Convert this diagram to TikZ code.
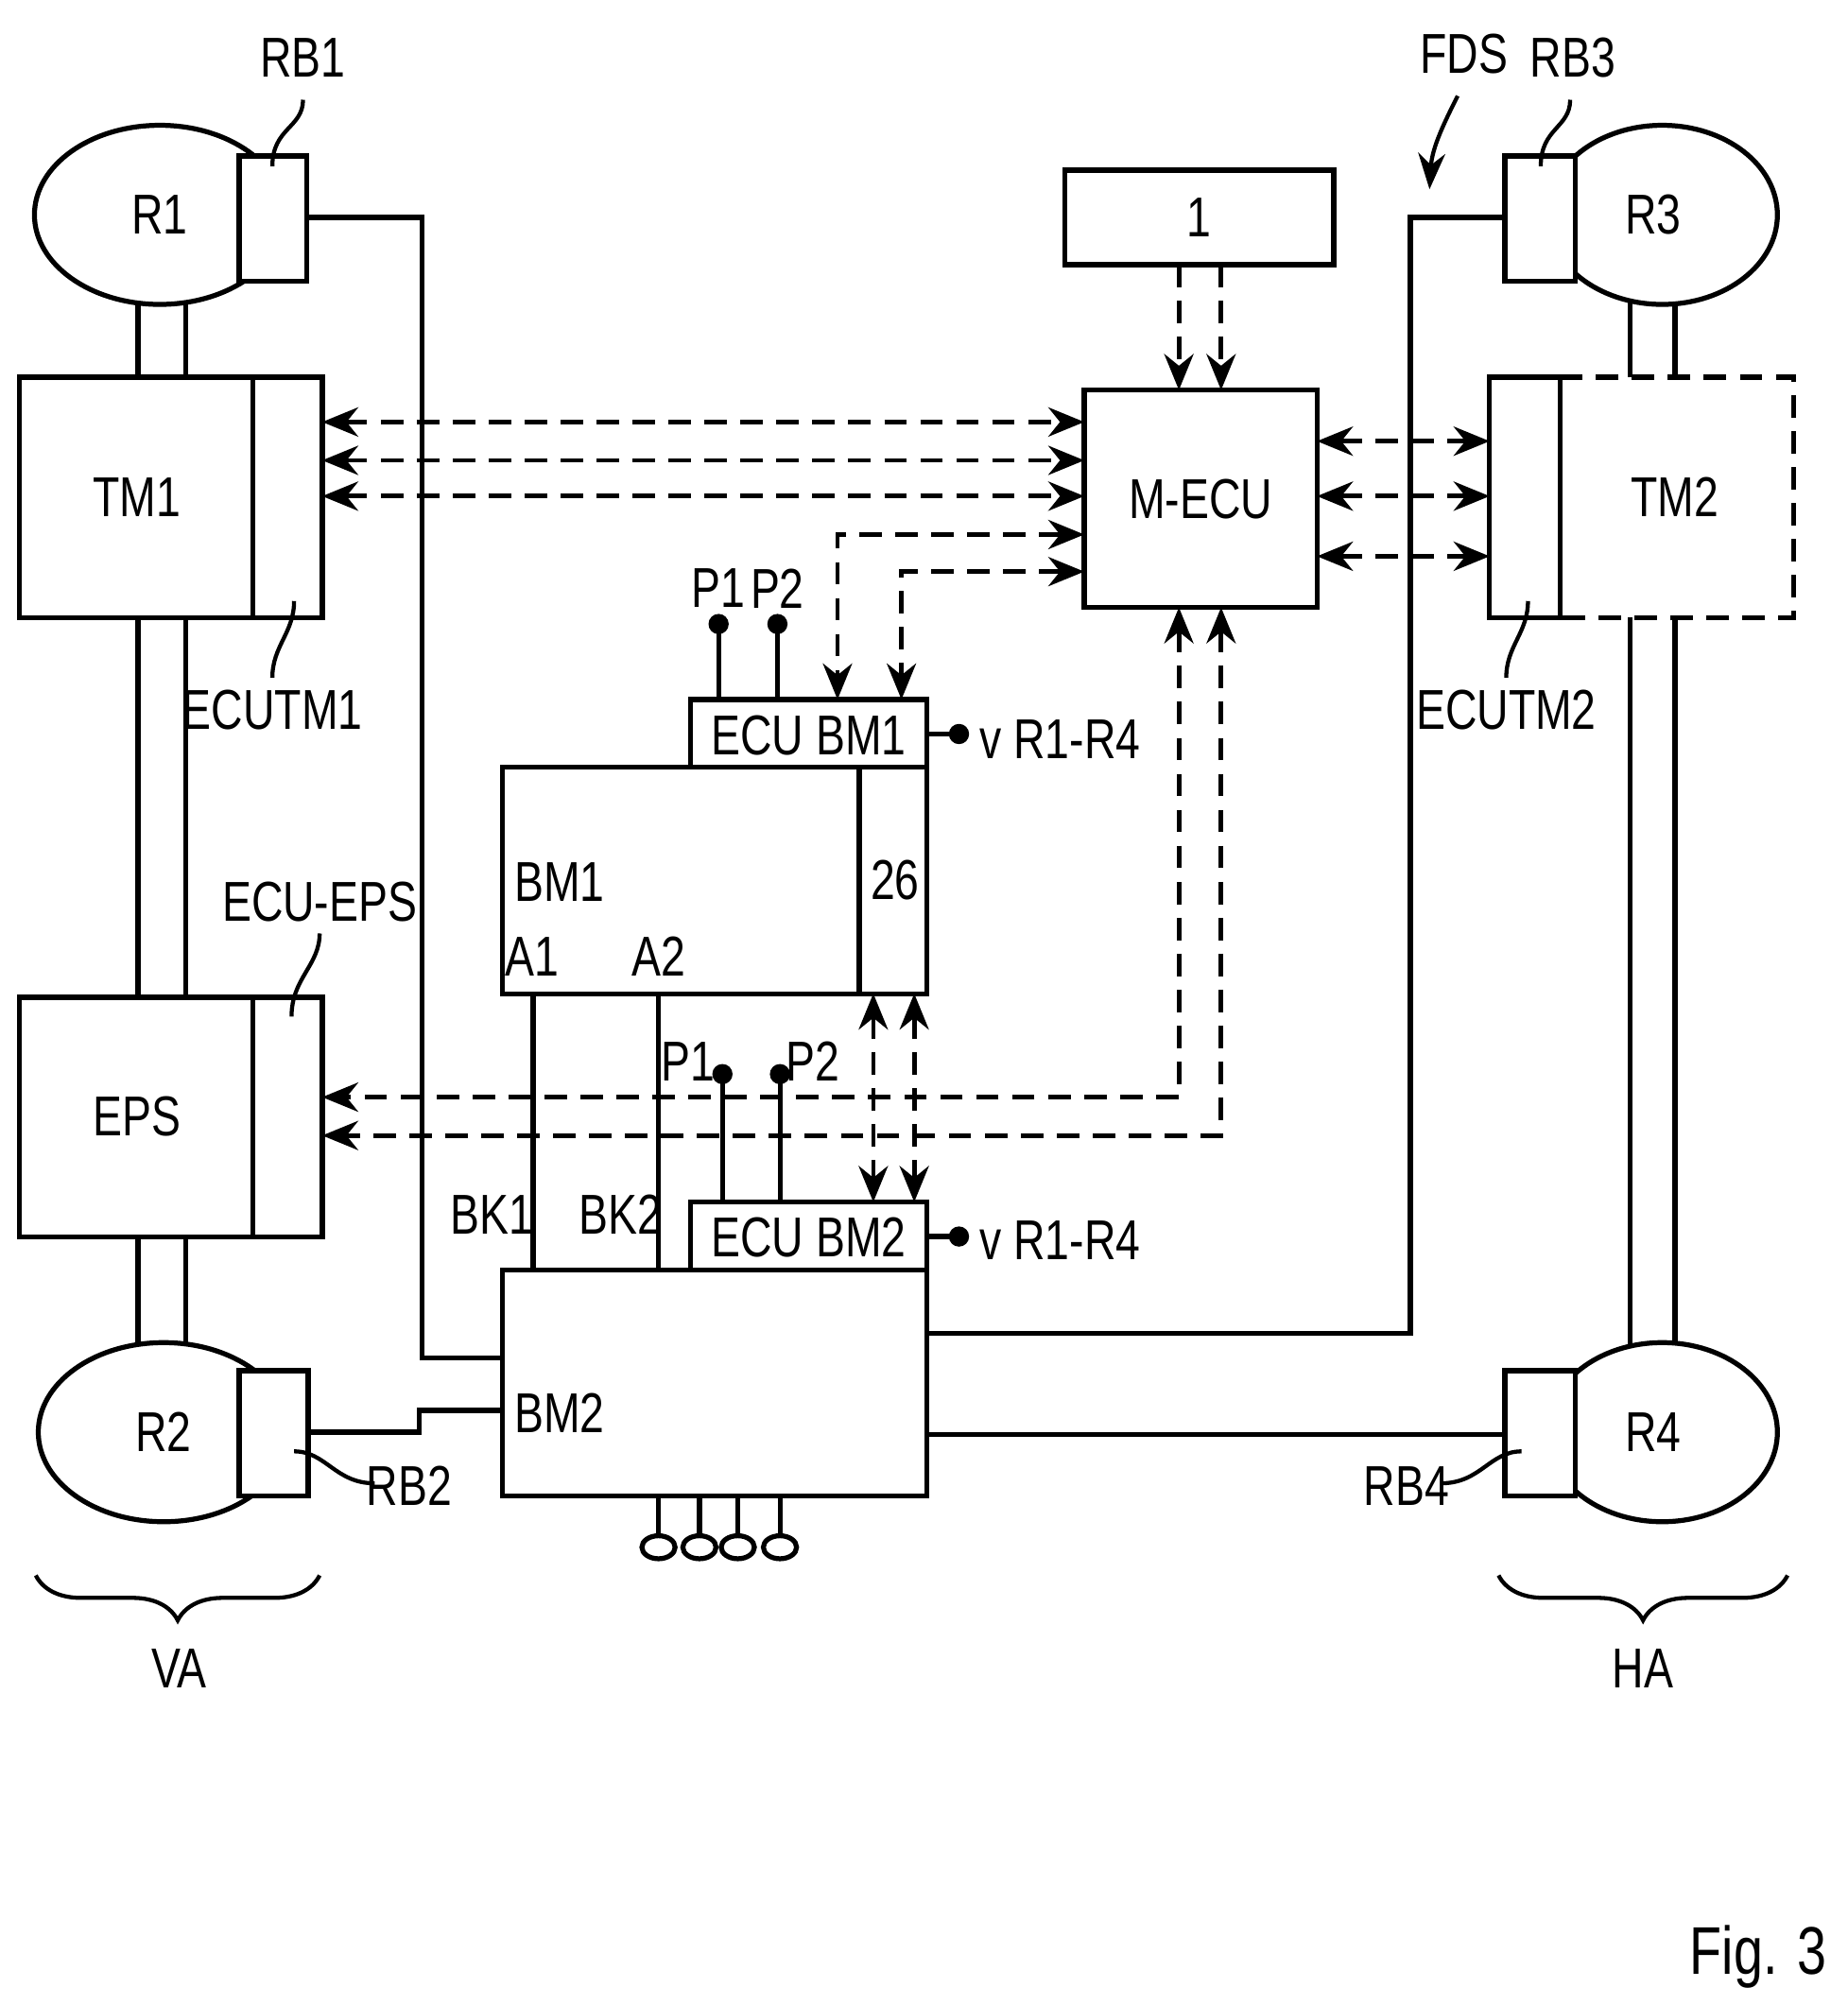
\documentclass[tikz,border=0pt]{standalone}
\usepackage{fontspec}
\setmainfont{Liberation Sans}[FakeStretch=0.78]
\usetikzlibrary{arrows.meta,decorations.pathreplacing,shapes.geometric}
\tikzset{
  box/.style={draw, line width=1.1pt, inner sep=0pt},
  wheel/.style={draw, line width=1.1pt, ellipse, inner sep=0pt},
  sig/.style={dashed, line width=1pt, dash pattern=on 5pt off 3pt},
  dsig/.style={sig, {Stealth[length=8pt,width=6.5pt]}-{Stealth[length=8pt,width=6.5pt]}},
  wire/.style={line width=1.1pt},
  lbl/.style={font=\fontsize{12.5}{14}\selectfont, inner sep=1pt},
  lead/.style={line width=0.9pt},
  pin/.style={circle, fill, inner sep=0pt, minimum size=4.5pt},
}
\begin{document}
\begin{tikzpicture}[x=0.01cm, y=-0.01cm]
\useasboundingbox (0,0) rectangle (1445,1568);
% wheels
\node[wheel, minimum width=1.96cm, minimum height=1.4cm] (r1) at (125,168) {};
\node[wheel, minimum width=1.8cm, minimum height=1.4cm] (r3) at (1300,168) {};
\node[wheel, minimum width=1.96cm, minimum height=1.4cm] (r2) at (128,1120) {};
\node[wheel, minimum width=1.8cm, minimum height=1.4cm] (r4) at (1300,1120) {};
\node[box, fill=white, minimum width=0.53cm, minimum height=0.98cm] (rb1) at (213.5,171) {};
\node[box, fill=white, minimum width=0.55cm, minimum height=0.98cm] (rb3) at (1204.5,171) {};
\node[box, fill=white, minimum width=0.54cm, minimum height=0.98cm] (rb2) at (214,1121) {};
\node[box, fill=white, minimum width=0.55cm, minimum height=0.98cm] (rb4) at (1204.5,1121) {};
\node[lbl] at (125,168) {R1};
\node[lbl] at (1293,168) {R3};
\node[lbl] at (128,1120) {R2};
\node[lbl] at (1293,1120) {R4};
% axles
\foreach \x in {108,145} {
  \draw[wire] (\x,236) -- (\x,295);
  \draw[wire] (\x,483) -- (\x,780);
  \draw[wire] (\x,967) -- (\x,1052);
}
\foreach \x in {1275,1310} {
  \draw[wire] (\x,236) -- (\x,295);
  \draw[wire] (\x,483) -- (\x,1052);
}
% drive units
\node[box, minimum width=2.37cm, minimum height=1.88cm] (tm1) at (133.5,389) {};
\draw[wire] (198,295) -- (198,483);
\node[lbl] at (107,389) {TM1};
\node[box, minimum width=2.37cm, minimum height=1.87cm] (eps) at (133.5,873.5) {};
\draw[wire] (198,780) -- (198,967);
\node[lbl] at (107,873) {EPS};
\node[box, minimum width=0.55cm, minimum height=1.88cm] (ecutm2) at (1192.5,389) {};
\draw[sig, line width=1.1pt] (1220,295) -- (1403,295) -- (1403,483) -- (1220,483);
\node[lbl] at (1310,389) {TM2};
% control units
\node[box, minimum width=2.1cm, minimum height=0.74cm] (one) at (938,170) {};
\node[lbl] at (938,170) {1};
\node[box, minimum width=1.82cm, minimum height=1.7cm] (mecu) at (939,390) {};
\node[lbl] at (939,390) {M-ECU};
\node[box, minimum width=1.85cm, minimum height=0.53cm] (ecubm1) at (632.5,573.5) {};
\node[lbl] at (632.5,575) {ECU BM1};
\node[box, minimum width=3.32cm, minimum height=1.77cm] (bm1) at (559,688.5) {};
\draw[wire] (672,600) -- (672,777);
\node[lbl] at (700,688) {26};
\node[lbl, anchor=west] at (398,690) {BM1};
\node[lbl] at (416,748) {A1};
\node[lbl] at (515,748) {A2};
\node[box, minimum width=1.85cm, minimum height=0.53cm] (ecubm2) at (632.5,966.5) {};
\node[lbl] at (632.5,968) {ECU BM2};
\node[box, minimum width=3.32cm, minimum height=1.77cm] (bm2) at (559,1081.5) {};
\node[lbl, anchor=west] at (398,1105) {BM2};
% dashed signal lines
\foreach \y in {330,360,388} \draw[dsig] (252,\y) -- (848,\y);
\foreach \y in {345,388,435} \draw[dsig] (1030,\y) -- (1165,\y);
\draw[sig, -{Stealth[length=8pt,width=6.5pt]}] (922,207) -- (922,305);
\draw[sig, -{Stealth[length=8pt,width=6.5pt]}] (955,207) -- (955,305);
\draw[dsig] (848,418) -- (655,418) -- (655,547);
\draw[dsig] (848,447) -- (705,447) -- (705,547);
\draw[dsig] (922,475) -- (922,858) -- (252,858);
\draw[dsig] (955,475) -- (955,888) -- (252,888);
\draw[dsig] (683,777) -- (683,940);
\draw[dsig] (715,777) -- (715,940);
% pins
\foreach \x/\t in {562/P1,608/P2} {
  \draw[wire] (\x,547) -- (\x,488) node[pin] {};
  \node[lbl] at (\x,460) {\t};
}
\draw[wire] (565,940) -- (565,840) node[pin] {};
\draw[wire] (610,940) -- (610,840) node[pin] {};
\node[lbl] at (538,830) {P1};
\node[lbl] at (636,830) {P2};
\draw[wire] (725,574) -- (750,574) node[pin] {};
\node[lbl, anchor=west] at (762,578) {v R1-R4};
\draw[wire] (725,967) -- (750,967) node[pin] {};
\node[lbl, anchor=west] at (762,970) {v R1-R4};
\draw[wire] (417,777) -- (417,993);
\draw[wire] (515,777) -- (515,993);
\node[lbl] at (385,950) {BK1};
\node[lbl] at (485,950) {BK2};
% sensor wiring
\draw[wire] (rb1.east |- 0,170) -- (330,170) -- (330,1062) -- (393,1062);
\draw[wire] (rb2.east |- 0,1120) -- (328,1120) -- (328,1103) -- (393,1103);
\draw[wire] (725,1043) -- (1103,1043) -- (1103,170) -- (rb3.west |- 0,170);
\draw[wire] (725,1122) -- (rb4.west |- 0,1122);
% outputs
\foreach \x in {515,547,577,610} {
  \draw[wire] (\x,1170) -- (\x,1201);
  \draw[wire] (\x,1210) ellipse (13 and 9);
}
% labels with leaders
\node[lbl] (lrb1) at (237,45) {RB1};
\draw[lead] (237,78) .. controls (237,100) and (213,100) .. (213,130);
\node[lbl] (lrb3) at (1230,45) {RB3};
\draw[lead] (1228,78) .. controls (1228,100) and (1205,100) .. (1205,130);
\node[lbl] (lfds) at (1145,42) {FDS};
\draw[lead, -{Stealth[length=8pt,width=6pt]}] (1140,75) .. controls (1130,95) and (1120,115) .. (1118,148);
\node[lbl] (lecutm1) at (213,555) {ECUTM1};
\draw[lead] (213,530) .. controls (213,505) and (230,495) .. (230,470);
\node[lbl] (lecutm2) at (1178,555) {ECUTM2};
\draw[lead] (1178,530) .. controls (1178,505) and (1195,495) .. (1195,470);
\node[lbl] (lecueps) at (250,705) {ECU-EPS};
\draw[lead] (250,730) .. controls (250,755) and (228,765) .. (228,795);
\node[lbl] (lrb2) at (320,1162) {RB2};
\draw[lead] (230,1135) .. controls (255,1135) and (262,1160) .. (293,1160);
\node[lbl] (lrb4) at (1100,1162) {RB4};
\draw[lead] (1190,1135) .. controls (1165,1135) and (1158,1160) .. (1127,1160);
% axles braces
\draw[lead, decorate, decoration={brace, mirror, amplitude=10pt}] (28,1232) -- (250,1232);
\node[lbl] at (140,1305) {VA};
\draw[lead, decorate, decoration={brace, mirror, amplitude=10pt}] (1172,1232) -- (1398,1232);
\node[lbl] at (1285,1305) {HA};
\node[font=\fontsize{15}{18}\selectfont] at (1375,1530) {Fig. 3};
\end{tikzpicture}
\end{document}
